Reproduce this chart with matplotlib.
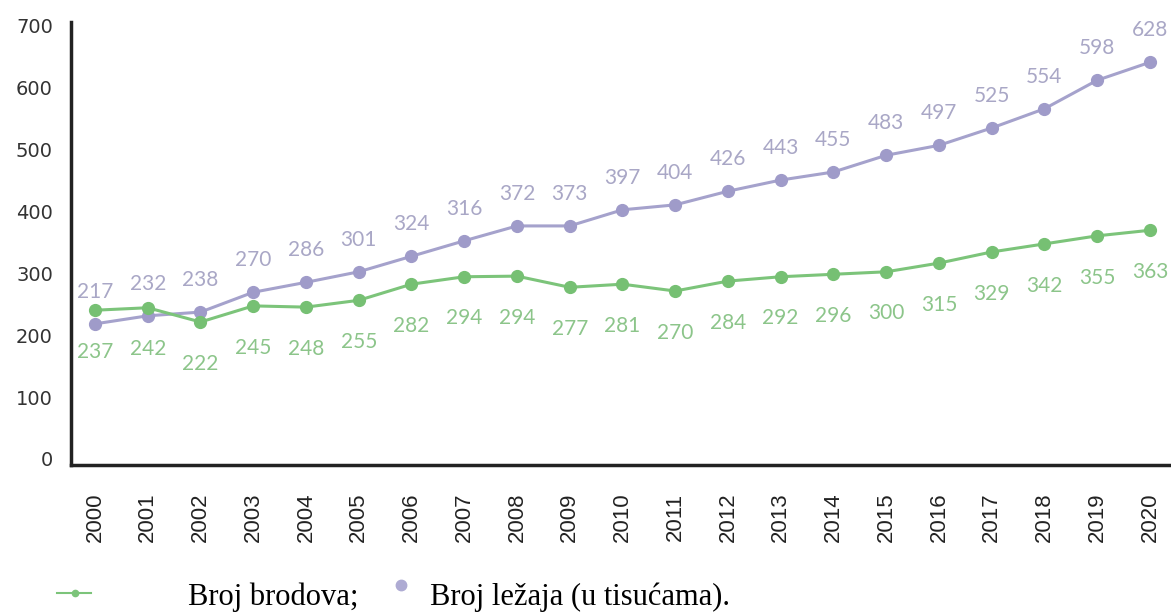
import matplotlib
matplotlib.use("Agg")
import matplotlib.pyplot as plt
from matplotlib.lines import Line2D

# Podaci (ocitano sa slike)
godine = list(range(2000, 2021))
# polozaj tocaka na grafu
brodovi = [240, 244, 221, 247, 245, 256, 282, 294, 295, 277, 282, 271, 287, 294, 298, 302, 316, 334, 347, 360, 369]
lezaji = [218, 231, 237, 269, 285, 302, 327, 352, 376, 376, 402, 410, 432, 450, 463, 490, 506, 534, 565, 611, 640]
# natpisi uz tocke
brodovi_txt = [237, 242, 222, 245, 248, 255, 282, 294, 294, 277, 281, 270, 284, 292, 296, 300, 315, 329, 342, 355, 363]
lezaji_txt = [217, 232, 238, 270, 286, 301, 324, 316, 372, 373, 397, 404, 426, 443, 455, 483, 497, 525, 554, 598, 628]
y_ticks = [0, 100, 200, 300, 400, 500, 600, 700]

green = "#7cc47a"
green_txt = "#8cc58a"
purple = "#a5a2cc"
purple_txt = "#a9a7c6"

fig = plt.figure(figsize=(11.71, 6.15), dpi=100)
ax = fig.add_axes([71/1171, 1 - 465/615, 1 - 71/1171, (465 - 22)/615])

ax.plot(godine, lezaji, color=purple, lw=2.2, marker="o", ms=8.5, mfc="#9f9bc9", mec="#9f9bc9", zorder=3)
ax.plot(godine, brodovi, color=green, lw=2.2, marker="o", ms=8.5, mfc="#76c073", mec="#76c073", zorder=3)

for x, y, t in zip(godine, lezaji, lezaji_txt):
    ax.annotate(str(t), (x, y), xytext=(0, 23), textcoords="offset points",
                ha="center", va="center", fontsize=15, color=purple_txt, family="Lato")
for x, y, t in zip(godine, brodovi, brodovi_txt):
    ax.annotate(str(t), (x, y), xytext=(0, -30), textcoords="offset points",
                ha="center", va="center", fontsize=15, color=green_txt, family="Lato")

ax.set_xlim(1999.545, 2020.4)
ax.set_ylim(-9.7, 705)
ax.set_yticks(y_ticks)
ax.set_yticklabels([str(v) for v in y_ticks], fontsize=14, color="#333333", family="DejaVu Sans")
ax.set_xticks(godine)
ax.set_xticklabels([str(g) for g in godine], rotation=90, fontsize=16, color="#222222",
                   family="Liberation Sans")
ax.tick_params(axis="y", length=0, pad=13)
ax.tick_params(axis="x", length=0, pad=20)

for s in ["top", "right"]:
    ax.spines[s].set_visible(False)
for s in ["left", "bottom"]:
    ax.spines[s].set_linewidth(2.5)
    ax.spines[s].set_color("#222222")

# legenda ispod grafa
fig.add_artist(Line2D([57/1171, 91/1171], [1 - 593/615, 1 - 593/615], color=green, lw=1.5))
fig.add_artist(Line2D([75/1171], [1 - 593/615], color=green, marker="o", ms=4.5, lw=0))
fig.add_artist(Line2D([401/1171], [1 - 585/615], color="#aeabd3", marker="o", ms=7.5, lw=0))
fig.text(188/1171, 1 - 605/615, "Broj brodova;", fontsize=22, family="Liberation Serif",
         va="baseline", ha="left", color="black")
fig.text(430/1171, 1 - 605/615, "Broj ležaja (u tisućama).", fontsize=22, family="Liberation Serif",
         va="baseline", ha="left", color="black")

fig.savefig("out.png", dpi=100)
